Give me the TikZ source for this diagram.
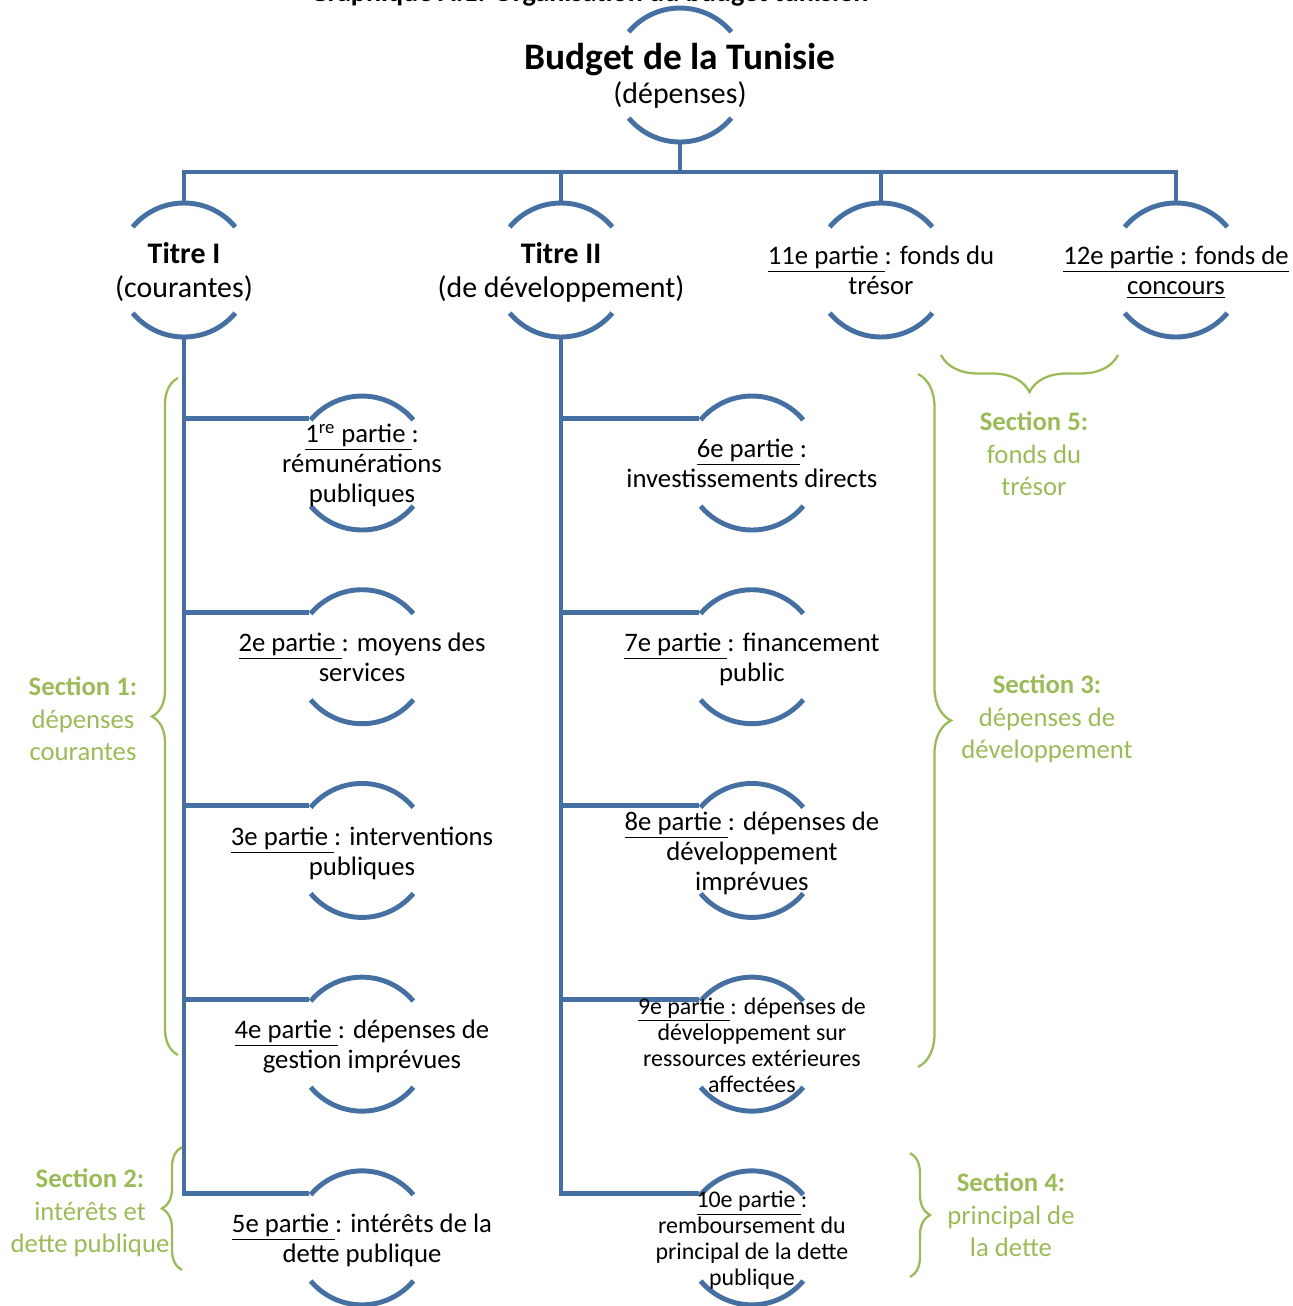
\documentclass[tikz,border=0pt]{standalone}
\usepackage{fontspec}
\setmainfont{Carlito}
\usetikzlibrary{positioning}
\usetikzlibrary{decorations.pathreplacing}
\definecolor{budgetblue}{RGB}{70,112,162}
\definecolor{sectiongreen}{RGB}{155,187,89}
\pgfdeclarelayer{background}
\pgfsetlayers{background,main}
% text of a node, centred, without widening the circle
\newcommand{\arctext}[1]{\makebox[0pt]{\raisebox{-0.75mm}[\height][\depth]{\begin{tabular}{@{}c@{}}#1\end{tabular}}}}

\begin{document}
\begin{tikzpicture}[x=0.02cm, y=0.02cm, node distance=3.875cm, on grid,
    arcnode/.style={circle, minimum size=2.68cm, inner sep=0pt,
      draw=budgetblue, line width=2.8pt,
      dash pattern=on 2.339cm off 1.871cm, dash phase=3.274cm,
      font=\fontsize{15.2}{17}\selectfont},
    titrenode/.style={arcnode, font=\fontsize{17}{19.3}\selectfont},
    smallnode/.style={arcnode, font=\fontsize{13.6}{14.8}\selectfont},
    link/.style={draw=budgetblue, line width=2.8pt},
    sectbrace/.style={draw=sectiongreen, line width=1.3pt, decorate,
      decoration={brace, amplitude=#1}},
    sectext/.style={text=sectiongreen, align=center,
      font=\fontsize{15.2}{18.5}\selectfont}]
    \useasboundingbox (0,0) rectangle (1293,-1306);
    \node[font=\fontsize{16}{19}\selectfont\bfseries, anchor=base] (caption) at (589,-1) {Graphique A.1: Organisation du budget tunisien};
    % top of the tree
    \node[titrenode] (budget) at (680,-75) {\arctext{\fontsize{21.3}{23}\selectfont\bfseries Budget de la Tunisie\\(dépenses)}};
    \node[titrenode] (titre1) at (184,-270) {\arctext{\textbf{Titre I}\\(courantes)}};
    \node[titrenode] (titre2) at (561,-270) {\arctext{\textbf{Titre II}\\(de développement)}};
    \node[arcnode] (fonds11) at (881,-270) {\arctext{\underline{11e partie\ }: fonds du\\trésor}};
    \node[arcnode] (fonds12) at (1176,-270) {\arctext{\underline{12e partie : fonds de}\\\underline{concours}}};
    \coordinate (bus) at (680,-172);
    % parties of titre I
    \node[arcnode] (partie1) at (362,-463) {\arctext{\underline{1\textsuperscript{re} partie\ }:\\rémunérations\\publiques}};
    \node[arcnode] (partie2) [below=of partie1] {\arctext{\underline{2e partie\ }: moyens des\\services}};
    \node[arcnode] (partie3) [below=of partie2] {\arctext{\underline{3e partie\ }: interventions\\publiques}};
    \node[arcnode] (partie4) [below=of partie3] {\arctext{\underline{4e partie\ }: dépenses de\\gestion imprévues}};
    \node[arcnode] (partie5) [below=of partie4] {\arctext{\underline{5e partie\ }: intérêts de la\\dette publique}};
    % parties of titre II
    \node[arcnode] (partie6) [right=7.8cm of partie1] {\arctext{\underline{6e partie\ }:\\investissements directs}};
    \node[arcnode] (partie7) [below=of partie6] {\arctext{\underline{7e partie\ }: financement\\public}};
    \node[arcnode] (partie8) [below=of partie7] {\arctext{\underline{8e partie\ }: dépenses de\\développement\\imprévues}};
    \node[smallnode] (partie9) [below=of partie8] {\arctext{\underline{9e partie\ }: dépenses de\\développement sur\\ressources extérieures\\affectées}};
    \node[smallnode] (partie10) [below=of partie9] {\arctext{\underline{10e partie\ }:\\remboursement du\\principal de la dette\\publique}};
    \begin{pgfonlayer}{background}
      \draw[link] (budget.south) -- (bus);
      \draw[link] (titre1.north) |- (bus) -| (fonds12.north);
      \draw[link] (titre2.north) -- (titre2.north |- bus);
      \draw[link] (fonds11.north) -- (fonds11.north |- bus);
      \draw[link] (titre1.south) |- (partie1.140);
      \draw[link] (titre1.south) |- (partie2.140);
      \draw[link] (titre1.south) |- (partie3.140);
      \draw[link] (titre1.south) |- (partie4.140);
      \draw[link] (titre1.south) |- (partie5.140);
      \draw[link] (titre2.south) |- (partie6.140);
      \draw[link] (titre2.south) |- (partie7.140);
      \draw[link] (titre2.south) |- (partie8.140);
      \draw[link] (titre2.south) |- (partie9.140);
      \draw[link] (titre2.south) |- (partie10.140);
    \end{pgfonlayer}
    % sections
    \coordinate (s1top) at (178,-378);
    \coordinate (s1bot) at (178,-1055);
    \coordinate (s2top) at (182,-1147);
    \coordinate (s2bot) at (182,-1270);
    \coordinate (s5left) at (941,-355);
    \coordinate (s5right) at (1118,-355);
    \coordinate (s3top) at (918,-374);
    \coordinate (s3bot) at (918,-1067);
    \coordinate (s4top) at (910,-1153);
    \coordinate (s4bot) at (910,-1277);
    \draw[sectbrace=0.52cm] (s1bot) -- (s1top);
    \draw[sectbrace=0.4cm] (s2bot) -- (s2top);
    \draw[sectbrace=0.74cm] (s5right) -- (s5left);
    \draw[sectbrace=0.66cm] (s3top) -- (s3bot);
    \draw[sectbrace=0.4cm] (s4top) -- (s4bot);
    \node[sectext] (section1) at (83,-719) {\textbf{Section 1:}\\dépenses\\courantes};
    \node[sectext] (section2) at (90,-1213) {\textbf{Section 2:}\\intérêts et\\dette publique};
    \node[sectext] (section5) at (1034,-454) {\textbf{Section 5:}\\fonds du\\trésor};
    \node[sectext] (section3) at (1047,-719) {\textbf{Section 3:}\\dépenses de\\développement};
    \node[sectext] (section4) at (1011,-1215) {\textbf{Section 4:}\\principal de\\la dette};
  \end{tikzpicture}
\end{document}
